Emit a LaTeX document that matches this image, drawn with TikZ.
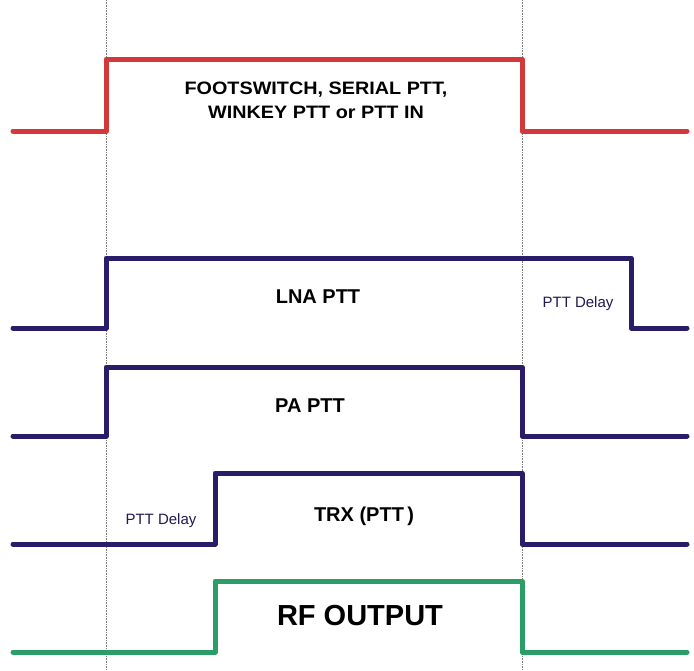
\documentclass[tikz,border=0pt]{standalone}
\usepackage{fontspec}
\setmainfont{Liberation Sans}
\newfontfamily\widefont[FakeStretch=1.1]{Liberation Sans}
\definecolor{footred}{RGB}{212,56,56}
\definecolor{pttblue}{RGB}{42,28,104}
\definecolor{rfgreen}{RGB}{42,158,102}
\tikzset{
	signal/.style = {line width=5pt, line join=round, line cap=round},
	guide/.style = {gray, densely dotted, line width=0.6pt},
	title/.style = {font=\bfseries\fontsize{20}{24}\selectfont, anchor=base},
	delay/.style = {font=\fontsize{15}{18}\selectfont, text=pttblue!80!black, anchor=base}
}
\begin{document}
\begin{tikzpicture}[x=1pt, y=-1pt]
				      \useasboundingbox (0,0) rectangle (694,670);
				      \coordinate (on) at (106,0);
				      \coordinate (off) at (522,0);
				      \draw[guide] (on) -- (106,670);
				      \draw[guide] (off) -- (522,670);
				      \draw[signal, footred] (13,131) -- (106,131) -- (106,59) -- (522,59) -- (522,131) -- (687,131);
				      \draw[signal, pttblue] (13,328) -- (106,328) -- (106,258) -- (631,258) -- (631,328) -- (687,328);
				      \draw[signal, pttblue] (13,436) -- (106,436) -- (106,367) -- (522,367) -- (522,436) -- (687,436);
				      \draw[signal, pttblue] (13,544) -- (215,544) -- (215,473) -- (522,473) -- (522,544) -- (687,544);
				      \draw[signal, rfgreen] (13,652) -- (215,652) -- (215,581) -- (522,581) -- (522,652) -- (687,652);
				      \node (foot)[font=\widefont\bfseries\fontsize{18}{24}\selectfont, align=center] at (316,100) {FOOTSWITCH, SERIAL PTT,\\WINKEY PTT or PTT IN};
				      \node (lna)[title] at (318,303) {LNA PTT};
				      \node (lnadelay)[delay] at (578,307) {PTT Delay};
				      \node (pa)[title] at (310,412) {PA PTT};
				      \node (trxdelay)[delay] at (161,524) {PTT Delay};
				      \node (trx)[title] at (364,521) {TRX (PTT\,)};
				      \node (rf)[title, font=\bfseries\fontsize{29}{34}\selectfont] at (360,625) {RF OUTPUT};
			      \end{tikzpicture}
\end{document}
